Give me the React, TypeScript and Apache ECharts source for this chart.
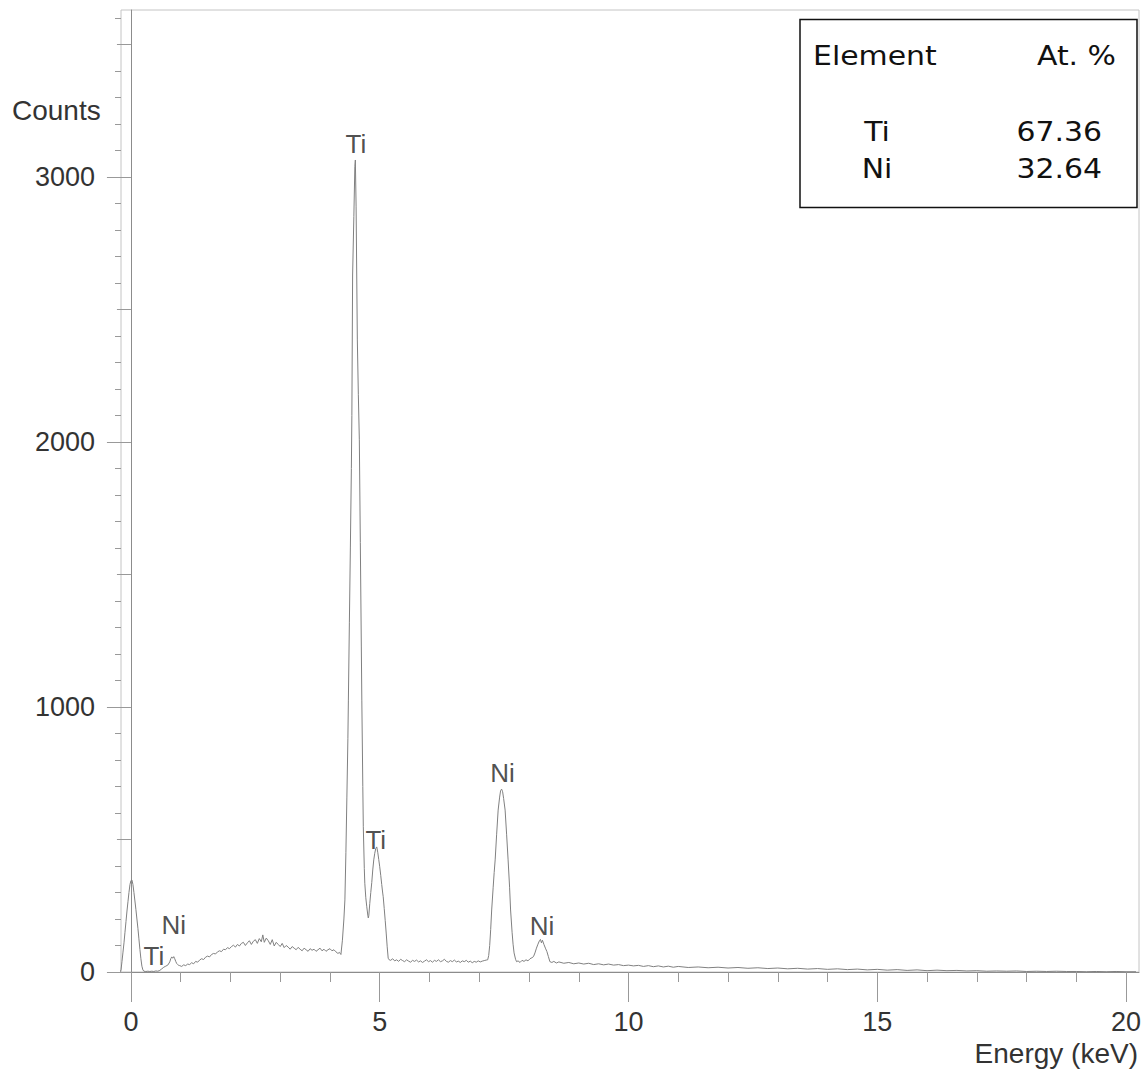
import React, { useEffect, useRef } from "react";
import * as echarts from "echarts";

// ---- Axis ranges / ticks ----
const X_MIN = -0.2;
const X_MAX = 20.26;
const Y_MIN = 0;
const Y_MAX = 3630;
const xMajorTicks = [0, 5, 10, 15, 20];
const xMinorTicks = [1, 2, 3, 4, 6, 7, 8, 9, 11, 12, 13, 14, 16, 17, 18, 19];
const yMajorTicks = [0, 1000, 2000, 3000];
const yMidTicks = [500, 1500, 2500, 3500];
const yMinorTicks = [
  100, 200, 300, 400, 600, 700, 800, 900, 1100, 1200, 1300, 1400, 1600, 1700, 1800, 1900,
  2100, 2200, 2300, 2400, 2600, 2700, 2800, 2900, 3100, 3200, 3300, 3400, 3600,
];

// ---- Spectrum (energy keV, counts) ----
const zeroPeak = [
  [-0.22, 0], [-0.2, 8], [-0.18, 40], [-0.16, 75], [-0.14, 110], [-0.12, 150], [-0.1, 190],
  [-0.08, 230], [-0.06, 265], [-0.04, 300], [-0.02, 330], [0.0, 345], [0.02, 347], [0.04, 330],
  [0.06, 300], [0.08, 268], [0.1, 235], [0.12, 200], [0.14, 165], [0.16, 125], [0.18, 85],
  [0.2, 50], [0.22, 22], [0.24, 8], [0.26, 3],
];

const lowBackground = [
  [0.3, 2], [0.34, 3], [0.38, 2], [0.42, 3], [0.46, 2], [0.5, 4], [0.54, 3], [0.58, 6],
  [0.62, 12], [0.66, 18], [0.7, 22], [0.74, 26], [0.78, 38], [0.8, 50], [0.82, 57], [0.84, 52],
  [0.86, 58], [0.88, 50], [0.9, 40], [0.92, 32], [0.94, 28], [0.96, 25], [0.98, 24], [1.02, 21],
  [1.06, 27], [1.1, 24], [1.14, 30], [1.18, 28], [1.22, 35], [1.26, 31], [1.3, 40], [1.34, 37],
  [1.38, 45], [1.42, 50], [1.46, 47], [1.5, 56], [1.54, 60], [1.58, 57], [1.62, 66], [1.66, 70],
  [1.7, 68], [1.74, 76], [1.78, 80], [1.82, 77], [1.86, 86], [1.9, 84], [1.94, 92], [1.98, 88],
  [2.02, 96], [2.06, 101], [2.1, 94], [2.14, 104], [2.18, 98], [2.22, 108], [2.26, 112],
  [2.3, 100], [2.34, 110], [2.38, 118], [2.42, 104], [2.46, 116], [2.5, 122], [2.54, 108],
  [2.58, 126], [2.62, 114], [2.65, 140], [2.68, 112], [2.72, 128], [2.76, 118], [2.8, 104],
  [2.84, 122], [2.88, 98], [2.92, 112], [2.96, 104], [3.0, 96], [3.04, 108], [3.08, 92],
  [3.12, 100], [3.16, 94], [3.2, 86], [3.24, 96], [3.28, 90], [3.32, 84], [3.36, 93], [3.4, 86],
  [3.44, 80], [3.48, 90], [3.52, 84], [3.56, 78], [3.6, 88], [3.64, 82], [3.68, 86], [3.72, 78],
  [3.76, 84], [3.8, 90], [3.84, 80], [3.88, 86], [3.92, 78], [3.96, 84], [4.0, 88], [4.04, 80],
  [4.08, 84], [4.12, 76], [4.16, 70], [4.19, 74],
];

const tiPeaks = [
  [4.22, 66], [4.25, 120], [4.28, 200], [4.3, 272], [4.32, 450], [4.34, 660], [4.36, 880],
  [4.37, 1026], [4.39, 1320], [4.41, 1600], [4.43, 1900], [4.44, 2100], [4.455, 2630],
  [4.48, 2850], [4.5, 3040], [4.51, 3064], [4.525, 2890], [4.55, 2385], [4.57, 2180],
  [4.59, 2008], [4.61, 1620], [4.63, 1230], [4.64, 1026], [4.66, 700], [4.67, 548], [4.69, 390],
  [4.7, 335], [4.72, 280], [4.74, 246], [4.76, 215], [4.77, 204], [4.78, 212], [4.8, 258],
  [4.82, 300], [4.84, 338], [4.86, 385], [4.88, 423], [4.9, 448], [4.92, 466], [4.94, 472],
  [4.96, 452], [4.98, 425], [5.0, 397], [5.02, 365], [5.04, 330], [5.06, 298], [5.07, 284],
  [5.09, 240], [5.11, 195], [5.13, 147], [5.15, 95], [5.17, 52], [5.19, 46],
];

const midBackground = [
  [5.22, 44], [5.26, 50], [5.3, 42], [5.34, 46], [5.38, 40], [5.42, 48], [5.46, 43], [5.5, 39],
  [5.54, 46], [5.58, 41], [5.62, 37], [5.66, 44], [5.7, 40], [5.74, 45], [5.78, 38], [5.82, 42],
  [5.86, 36], [5.9, 41], [5.94, 46], [5.98, 39], [6.02, 43], [6.06, 37], [6.1, 44], [6.14, 40],
  [6.18, 46], [6.22, 39], [6.26, 42], [6.3, 48], [6.34, 40], [6.38, 37], [6.42, 43], [6.46, 39],
  [6.5, 45], [6.54, 38], [6.58, 41], [6.62, 36], [6.66, 42], [6.7, 39], [6.74, 44], [6.78, 37],
  [6.82, 41], [6.86, 35], [6.9, 40], [6.94, 37], [6.98, 42], [7.02, 38], [7.06, 41], [7.1, 43],
  [7.14, 45],
];

const niPeaks = [
  [7.17, 46], [7.19, 62], [7.21, 100], [7.23, 160], [7.25, 234], [7.28, 320], [7.3, 375],
  [7.32, 423], [7.35, 520], [7.38, 611], [7.41, 660], [7.43, 685], [7.45, 690], [7.47, 680],
  [7.49, 655], [7.52, 611], [7.55, 520], [7.58, 423], [7.61, 320], [7.63, 234], [7.66, 150],
  [7.68, 105], [7.7, 72], [7.73, 48], [7.75, 39], [7.78, 42], [7.82, 36], [7.86, 44], [7.9, 40],
  [7.94, 46], [7.98, 42], [8.02, 50], [8.06, 54], [8.09, 58], [8.12, 72], [8.15, 90],
  [8.18, 105], [8.21, 118], [8.23, 123], [8.25, 110], [8.27, 120], [8.3, 104], [8.33, 90],
  [8.36, 77], [8.39, 58], [8.42, 39], [8.46, 36], [8.5, 40],
];

const tail = [
  [8.55, 34], [8.6, 38], [8.7, 33], [8.8, 36], [8.9, 31], [9.0, 34], [9.1, 30], [9.2, 33],
  [9.3, 28], [9.4, 31], [9.5, 27], [9.6, 30], [9.7, 26], [9.8, 28], [9.9, 24], [10.0, 26],
  [10.1, 23], [10.2, 25], [10.3, 21], [10.4, 24], [10.5, 20], [10.6, 23], [10.7, 19], [10.8, 22],
  [10.9, 18], [11.0, 21], [11.2, 17], [11.4, 19], [11.6, 16], [11.8, 18], [12.0, 15], [12.2, 17],
  [12.4, 14], [12.6, 16], [12.8, 13], [13.0, 15], [13.2, 12], [13.4, 14], [13.6, 11], [13.8, 13],
  [14.0, 10], [14.2, 12], [14.4, 9], [14.6, 11], [14.8, 8], [15.0, 10], [15.2, 7], [15.4, 9],
  [15.6, 6], [15.8, 8], [16.0, 5], [16.2, 7], [16.4, 5], [16.6, 6], [16.8, 4], [17.0, 5],
  [17.2, 3], [17.4, 4], [17.6, 3], [17.8, 4], [18.0, 2], [18.2, 3], [18.4, 2], [18.6, 3],
  [18.8, 2], [19.0, 2], [19.2, 1], [19.4, 2], [19.6, 1], [19.8, 2], [20.0, 1], [20.2, 1],
];

// ---- Peak annotations (label anchor: energy keV, counts) ----
const peakNames = ["Ti", "Ti", "Ni", "Ti", "Ni", "Ni"];
const peakEnergies = [0.46, 4.52, 0.86, 4.92, 7.47, 8.26];
const peakLabelCounts = [60, 3125, 177, 498, 751, 174];

// ---- Composition table ----
const elements = ["Ti", "Ni"];
const atomicPercent = ["67.36", "32.64"];

export default function App() {
  const ref = useRef<HTMLDivElement>(null);

  useEffect(() => {
    if (!ref.current) return;
    const chart = echarts.init(ref.current, undefined, { renderer: "svg" });

    const spectrum = [
      ...zeroPeak,
      ...lowBackground,
      ...tiPeaks,
      ...midBackground,
      ...niPeaks,
      ...tail,
    ];
    const labelData = peakNames.map((n, i) => ({
      name: n,
      value: [peakEnergies[i], peakLabelCounts[i]],
    }));

    const axisFont = { fontFamily: "Liberation Sans", fontSize: 27, color: "#333" };
    const tickStyle = { color: "#999", width: 1 };
    const plain = (v: number) => String(v);

    const option: any = {
      animation: false,
      backgroundColor: "#ffffff",
      grid: {
        left: 121,
        right: 9,
        top: 10,
        bottom: 103,
        show: true,
        borderColor: "#c4c4c4",
        borderWidth: 1,
        containLabel: false,
        outerBoundsMode: "none",
      },
      xAxis: [
        {
          type: "value",
          position: "bottom",
          min: X_MIN,
          max: X_MAX,
          splitLine: { show: false },
          axisLine: { show: true, lineStyle: { color: "#8c8c8c", width: 1 } },
          axisTick: { show: true, customValues: xMajorTicks, length: 30, lineStyle: tickStyle },
          axisLabel: { customValues: xMajorTicks, margin: 36, formatter: plain, ...axisFont },
        },
        {
          type: "value",
          position: "bottom",
          min: X_MIN,
          max: X_MAX,
          splitLine: { show: false },
          axisLine: { show: false },
          axisTick: { show: true, customValues: xMinorTicks, length: 10, lineStyle: tickStyle },
          axisLabel: { show: false },
        },
      ],
      yAxis: [
        {
          type: "value",
          position: "left",
          min: Y_MIN,
          max: Y_MAX,
          splitLine: { show: false },
          axisLine: { show: true, lineStyle: { color: "#8c8c8c", width: 1 } },
          axisTick: { show: true, customValues: yMajorTicks, length: 24, lineStyle: tickStyle },
          axisLabel: { customValues: yMajorTicks, margin: 26, formatter: plain, ...axisFont },
        },
        {
          type: "value",
          position: "left",
          min: Y_MIN,
          max: Y_MAX,
          splitLine: { show: false },
          axisLine: { show: false },
          axisTick: { show: true, customValues: yMidTicks, length: 14, lineStyle: tickStyle },
          axisLabel: { show: false },
        },
        {
          type: "value",
          position: "left",
          min: Y_MIN,
          max: Y_MAX,
          splitLine: { show: false },
          axisLine: { show: false },
          axisTick: { show: true, customValues: yMinorTicks, length: 6, lineStyle: tickStyle },
          axisLabel: { show: false },
        },
      ],
      series: [
        {
          type: "line",
          xAxisIndex: 0,
          yAxisIndex: 0,
          data: spectrum,
          showSymbol: false,
          symbol: "none",
          lineStyle: { color: "#808080", width: 1 },
          silent: true,
        },
        {
          type: "scatter",
          xAxisIndex: 0,
          yAxisIndex: 0,
          data: labelData,
          symbolSize: 0,
          silent: true,
          label: {
            show: true,
            position: "inside",
            formatter: (p: any) => p.name,
            fontFamily: "Liberation Sans",
            fontSize: 26,
            color: "#222",
          },
        },
      ],
      graphic: [
        {
          type: "text",
          left: 12,
          top: 96,
          style: { text: "Counts", font: '28px "Liberation Sans"', fill: "#333" },
        },
        {
          type: "text",
          right: 10,
          top: 1039,
          style: { text: "Energy (keV)", font: '28px "Liberation Sans"', fill: "#333" },
        },
        {
          type: "rect",
          shape: { x: 800, y: 19.5, width: 337, height: 188 },
          style: { fill: "#ffffff", stroke: "#111", lineWidth: 1.5 },
          z: 10,
        },
        {
          type: "text",
          x: 813,
          y: 56,
          scaleX: 1.15,
          z: 11,
          style: {
            text: "Element",
            font: '26px "DejaVu Sans"',
            fill: "#111",
            textAlign: "left",
            textVerticalAlign: "middle",
          },
        },
        {
          type: "text",
          x: 1116,
          y: 56,
          scaleX: 1.15,
          z: 11,
          style: {
            text: "At. %",
            font: '26px "DejaVu Sans"',
            fill: "#111",
            textAlign: "right",
            textVerticalAlign: "middle",
          },
        },
        ...elements.map((el, i) => ({
          type: "text",
          x: 877,
          y: 132 + i * 37,
          scaleX: 1.15,
          z: 11,
          style: {
            text: el,
            font: '26px "DejaVu Sans"',
            fill: "#111",
            textAlign: "center",
            textVerticalAlign: "middle",
          },
        })),
        ...atomicPercent.map((v, i) => ({
          type: "text",
          x: 1102,
          y: 132 + i * 37,
          scaleX: 1.15,
          z: 11,
          style: {
            text: v,
            font: '26px "DejaVu Sans"',
            fill: "#111",
            textAlign: "right",
            textVerticalAlign: "middle",
          },
        })),
      ],
    };

    chart.setOption(option);
    return () => chart.dispose();
  }, []);

  return (
    <div
      ref={ref}
      style={{ position: "fixed", left: 0, top: 0, width: 1148, height: 1075, background: "#fff" }}
    />
  );
}
